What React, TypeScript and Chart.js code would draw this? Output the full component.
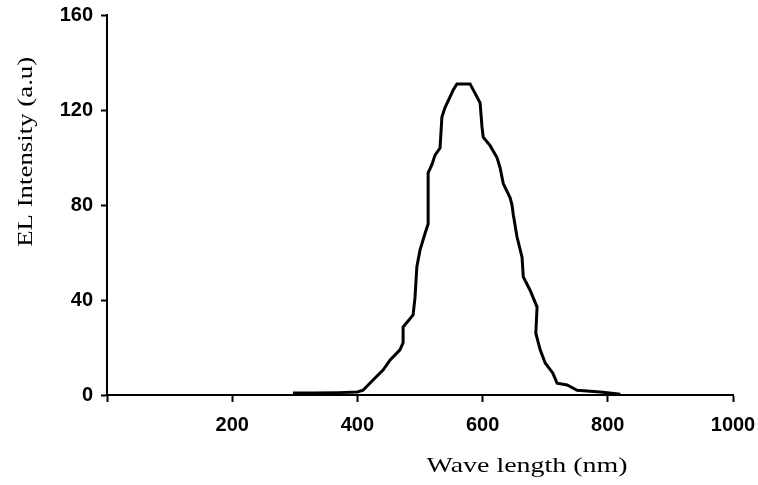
import React, { useEffect, useRef } from "react";
import { Chart, registerables } from "chart.js";

Chart.register(...registerables);

// Wavelength (nm) and EL intensity (a.u.)
const wavelength = [
  297, 330, 370, 400, 409, 425, 441, 452, 468, 473, 473, 489, 492, 495, 500,
  508, 513, 513, 519, 524, 532, 535, 540, 548, 553, 559, 580, 588, 596, 599,
  601, 612, 623, 628, 633, 644, 647, 649, 655, 663, 665, 676, 687, 685, 692,
  700, 712, 719, 735, 751, 788, 803, 820,
];
const intensity = [
  0.8, 0.8, 1.0, 1.3, 2.0, 6.3, 10.5, 14.7, 19.0, 22.0, 28.6, 33.7, 41.0, 54.0,
  61.0, 68.0, 72.0, 93.5, 97.0, 101.0, 104.0, 117.0, 121.0, 125.5, 128.4, 131.0,
  131.0, 127.0, 123.0, 113.0, 108.6, 105.0, 100.0, 95.6, 89.0, 83.0, 80.0, 76.0,
  66.5, 58.0, 49.7, 44.0, 37.0, 26.0, 19.0, 13.5, 9.3, 5.0, 4.2, 2.0, 1.3, 0.8,
  0.3,
];

const xTicks = [200, 400, 600, 800, 1000];
const yTicks = [0, 40, 80, 120, 160];
const xTitle = "Wave length (nm)";
const yTitle = "EL Intensity (a.u)";

const titlePlugin = {
  id: "stretchedTitles",
  afterDraw(chart: any) {
    const { ctx, chartArea } = chart;
    const w = chartArea.right - chartArea.left;
    const h = chartArea.bottom - chartArea.top;
    ctx.save();
    ctx.fillStyle = "#000";
    ctx.font = '22px "Liberation Serif", "Times New Roman", serif';
    ctx.textAlign = "center";
    ctx.textBaseline = "middle";
    ctx.save();
    ctx.translate(chartArea.left + 0.671 * w, chartArea.bottom + 71);
    ctx.scale(1.27, 1);
    ctx.fillText(xTitle, 0, 0);
    ctx.restore();
    ctx.save();
    ctx.translate(chartArea.left - 81, chartArea.top + 0.36 * h);
    ctx.rotate(-Math.PI / 2);
    ctx.scale(1.22, 1);
    ctx.fillText(yTitle, 0, 0);
    ctx.restore();
    ctx.restore();
  },
};

export default function App() {
  const canvasRef = useRef<HTMLCanvasElement | null>(null);

  useEffect(() => {
    if (!canvasRef.current) return;
    const points = wavelength.map((x, i) => ({ x, y: intensity[i] }));
    const tickFont = {
      family: '"Liberation Sans", Arial, sans-serif',
      size: 20,
      weight: "bold" as const,
    };
    const chart = new Chart(canvasRef.current, {
      type: "scatter",
      data: {
        datasets: [
          {
            data: points,
            showLine: true,
            borderColor: "#000",
            borderWidth: 3,
            pointRadius: 0,
            tension: 0,
            fill: false,
          },
        ],
      },
      options: {
        animation: false,
        responsive: true,
        maintainAspectRatio: false,
        layout: { padding: { left: 0, right: 25, top: 15, bottom: 0 } },
        plugins: {
          legend: { display: false },
          tooltip: { enabled: false },
        },
        scales: {
          x: {
            type: "linear",
            min: 0,
            max: 1000,
            afterFit: (scale: any) => {
              scale.height = 90;
              scale.paddingLeft = 0;
              scale.paddingRight = 0;
            },
            afterBuildTicks: (scale: any) => {
              scale.ticks = [0, ...xTicks].map((v) => ({ value: v }));
            },
            ticks: {
              color: "#000",
              font: tickFont,
              padding: 11,
              maxRotation: 0,
              autoSkip: false,
              callback: (v: any) => (v === 0 ? "" : String(v)),
            },
            grid: {
              drawOnChartArea: false,
              drawTicks: true,
              tickLength: 7,
              tickWidth: 2,
              tickColor: "#000",
            },
            border: { display: true, color: "#000", width: 2 },
          },
          y: {
            type: "linear",
            min: 0,
            max: 160,
            afterFit: (scale: any) => {
              scale.width = 107;
              scale.paddingTop = 0;
              scale.paddingBottom = 0;
            },
            afterBuildTicks: (scale: any) => {
              scale.ticks = yTicks.map((v) => ({ value: v }));
            },
            ticks: {
              color: "#000",
              font: tickFont,
              padding: 8,
              autoSkip: false,
              callback: (v: any) => String(v),
            },
            grid: {
              drawOnChartArea: false,
              drawTicks: true,
              tickLength: 6,
              tickWidth: 2,
              tickColor: "#000",
            },
            border: { display: true, color: "#000", width: 2 },
          },
        },
      },
      plugins: [titlePlugin],
    });
    return () => chart.destroy();
  }, []);

  return (
    <div
      style={{
        position: "fixed",
        left: 0,
        top: 0,
        width: 758,
        height: 485,
        background: "#fff",
      }}
    >
      <canvas ref={canvasRef} />
    </div>
  );
}
